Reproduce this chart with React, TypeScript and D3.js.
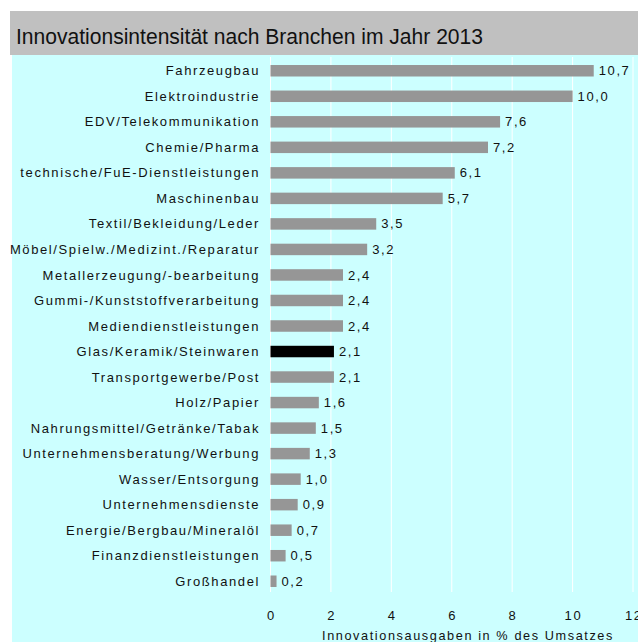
import React from "react";
import * as d3 from "d3";

const categories = [
  "Fahrzeugbau",
  "Elektroindustrie",
  "EDV/Telekommunikation",
  "Chemie/Pharma",
  "technische/FuE-Dienstleistungen",
  "Maschinenbau",
  "Textil/Bekleidung/Leder",
  "Möbel/Spielw./Medizint./Reparatur",
  "Metallerzeugung/-bearbeitung",
  "Gummi-/Kunststoffverarbeitung",
  "Mediendienstleistungen",
  "Glas/Keramik/Steinwaren",
  "Transportgewerbe/Post",
  "Holz/Papier",
  "Nahrungsmittel/Getränke/Tabak",
  "Unternehmensberatung/Werbung",
  "Wasser/Entsorgung",
  "Unternehmensdienste",
  "Energie/Bergbau/Mineralöl",
  "Finanzdienstleistungen",
  "Großhandel",
];
const values = [10.7, 10.0, 7.6, 7.2, 6.1, 5.7, 3.5, 3.2, 2.4, 2.4, 2.4, 2.1, 2.1, 1.6, 1.5, 1.3, 1.0, 0.9, 0.7, 0.5, 0.2];
const highlighted = ["Glas/Keramik/Steinwaren"];
const xTicks = [0, 2, 4, 6, 8, 10, 12];
const title = "Innovationsintensität nach Branchen im Jahr 2013";
const xAxisTitle = "Innovationsausgaben in % des Umsatzes";

export default function App() {
  const W = 638, H = 642;
  const x = d3.scaleLinear().domain([0, 12]).range([270.5, 633]);
  const y = d3.scaleBand<string>().domain(categories).range([58, 594]).paddingInner(0.55).paddingOuter(0.275);
  const fmt = (v: number) => v.toFixed(1).replace(".", ",");
  const font = "'Liberation Sans', Arial, sans-serif";
  const fs = 13;
  const ls = 1.6;
  return (
    <svg width={W} height={H} style={{ position: "absolute", left: 0, top: 0 }}>
      <rect x={10} y={11} width={W - 10} height={44} fill="#c0c0c0" />
      <rect x={12} y={55} width={W - 12} height={H - 55} fill="#ccffff" />
      <text x={16} y={44} fontFamily={font} fontSize={22} textLength={467} lengthAdjust="spacingAndGlyphs" fill="#111">{title}</text>
      {xTicks.map((t) => (
        <line key={t} x1={x(t)} x2={x(t)} y1={57} y2={592} stroke="#ffffff" strokeWidth={1} />
      ))}
      {categories.map((c, i) => {
        const yy = y(c)!;
        const bh = y.bandwidth();
        const isH = highlighted.includes(c);
        return (
          <g key={c}>
            <rect x={x(0)} y={yy} width={x(values[i]) - x(0)} height={bh} fill={isH ? "#000000" : "#969696"} />
            <text x={260} y={yy + bh / 2} dy="0.35em" textAnchor="end" fontFamily={font} fontSize={fs} letterSpacing={ls} fill="#111">{c}</text>
            <text x={x(values[i]) + 5} y={yy + bh / 2} dy="0.35em" fontFamily={font} fontSize={fs} letterSpacing={ls} fill="#111">{fmt(values[i])}</text>
          </g>
        );
      })}
      {xTicks.map((t) => (
        <text key={t} x={x(t) + ls / 2} y={615} dy="0.35em" textAnchor="middle" fontFamily={font} fontSize={fs} letterSpacing={ls} fill="#111">{t}</text>
      ))}
      <text x={468} y={636} dy="0.35em" textAnchor="middle" fontFamily={font} fontSize={12.7} letterSpacing={1.6} fill="#111">{xAxisTitle}</text>
    </svg>
  );
}
